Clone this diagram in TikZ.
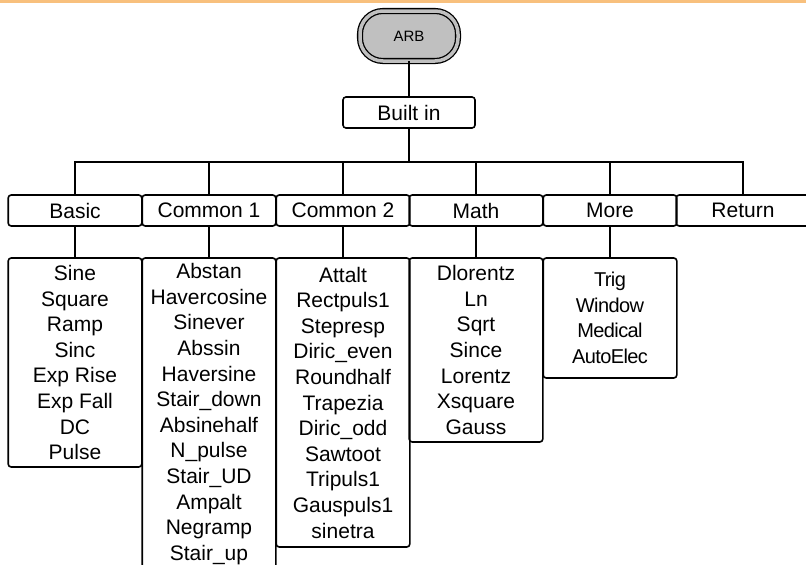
\documentclass[tikz,border=0pt]{standalone}
\usepackage{fontspec}
\setmainfont{Liberation Sans}
\definecolor{topline}{RGB}{248,192,125}
\definecolor{arbgray}{RGB}{192,192,192}
\begin{document}
\begin{tikzpicture}[x=1pt,y=-1pt,
  every node/.style={inner sep=0pt,outer sep=0pt},
  menubox/.style={draw,line width=1.6pt,rounded corners=3pt,minimum width=133.6pt,minimum height=31pt,font=\fontsize{21}{25.6}\selectfont},
  leafbox/.style={draw,line width=1.6pt,rounded corners=3pt,minimum width=133.6pt,align=center,font=\fontsize{21}{25.6}\selectfont},
  conn/.style={line width=1.8pt}]
\useasboundingbox (0,0) rectangle (806,565);
\clip (0,0) rectangle (806,565);
\fill[topline] (0,0) rectangle (806,2.5);
% root
\node[draw,line width=1.3pt,double=arbgray,double distance=3.5pt,fill=arbgray,rounded corners=23pt,minimum width=98pt,minimum height=50pt,font=\fontsize{15}{18}\selectfont] (arb) at (409,36) {ARB};
\node[menubox,minimum width=132pt] (built) at (409,112.5) {Built in};
% menu
\node[menubox] (m1) at (75,210.5) {Basic};
\node[menubox] (m2) at (209,210.5) {Common 1};
\node[menubox] (m3) at (343,210.5) {Common 2};
\node[menubox] (m4) at (476,210.5) {Math};
\node[menubox] (m5) at (610,210.5) {More};
\node[menubox] (m6) at (743,210.5) {Return};
\coordinate (bus) at (409,162);
% leaves
\node[leafbox,minimum height=209pt] (l1) at (75,362.5) {Sine\\Square\\Ramp\\Sinc\\Exp Rise\\Exp Fall\\DC\\Pulse};
\node[leafbox,minimum height=312pt] (l2) at (209,414) {Abstan\\Havercosine\\Sinever\\Abssin\\Haversine\\Stair\_down\\Absinehalf\\N\_pulse\\Stair\_UD\\Ampalt\\Negramp\\Stair\_up};
\node[leafbox,minimum height=289pt] (l3) at (343,402.5) {Attalt\\Rectpuls1\\Stepresp\\Diric\_even\\Roundhalf\\Trapezia\\Diric\_odd\\Sawtoot\\Tripuls1\\Gauspuls1\\sinetra};
\node[leafbox,minimum height=184pt] (l4) at (476,350) {Dlorentz\\Ln\\Sqrt\\Since\\Lorentz\\Xsquare\\Gauss};
\node[leafbox,minimum height=120pt,font=\fontsize{20}{25.6}\selectfont\addfontfeatures{LetterSpace=-3}] (l5) at (610,318) {Trig\\Window\\Medical\\AutoElec};
% connectors
\draw[conn] (arb.south) -- (built.north);
\draw[conn] (built.south) -- (bus);
\draw[conn] (m1.north) -- (m1.north |- bus) -- (m6.north |- bus) -- (m6.north);
\foreach \m in {m2,m3,m4,m5} \draw[conn] (\m.north) -- (\m.north |- bus);
\foreach \i in {1,...,5} \draw[conn] (m\i.south) -- (l\i.north);
\end{tikzpicture}
\end{document}
